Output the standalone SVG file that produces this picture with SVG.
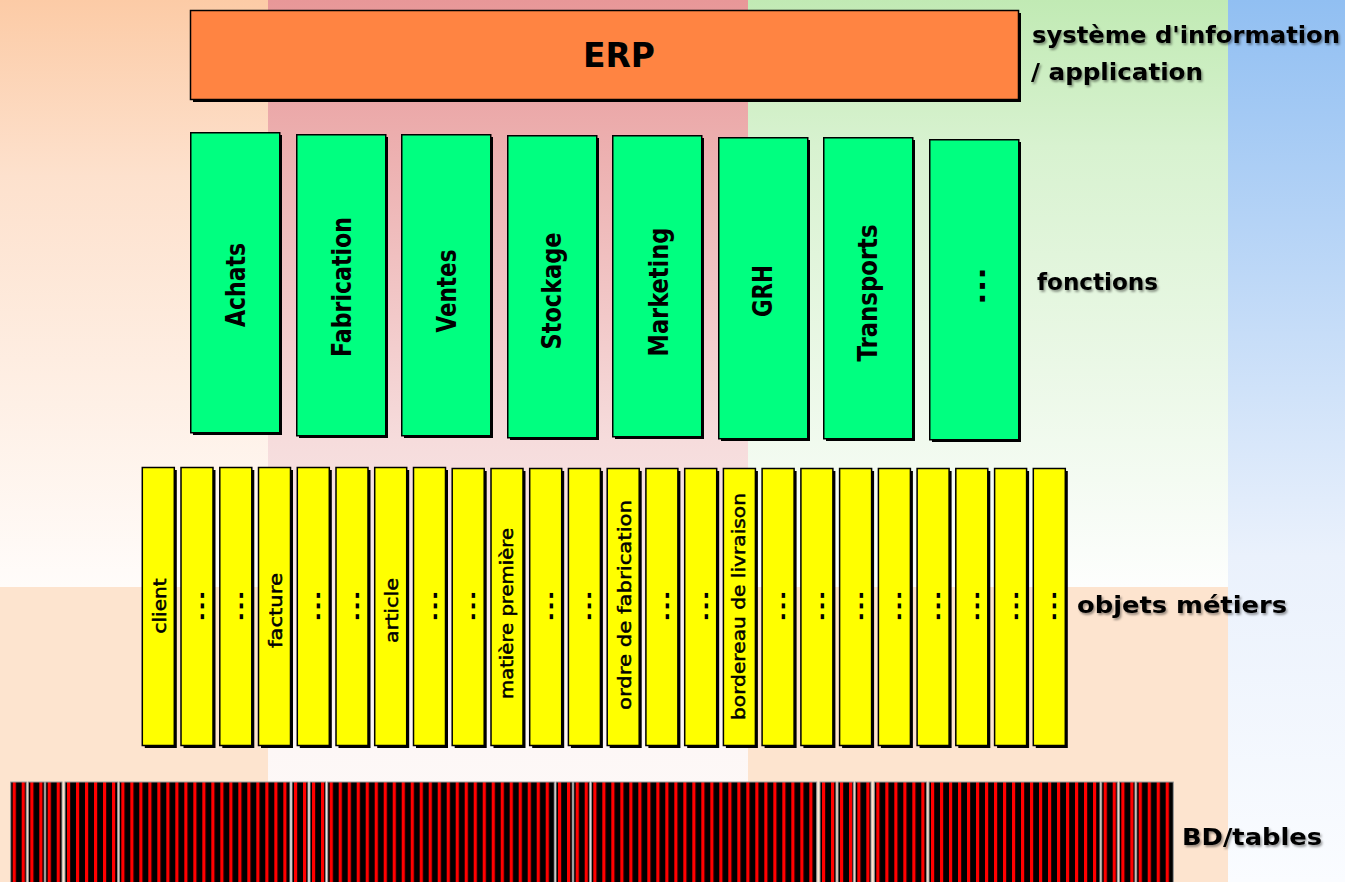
<svg xmlns="http://www.w3.org/2000/svg" width="1345" height="882" viewBox="0 0 1345 882">
<defs>
  <linearGradient id="gPeach" x1="0" y1="0" x2="0" y2="1">
    <stop offset="0" stop-color="#fccba6"/>
    <stop offset="0.3" stop-color="#fde1cd"/>
    <stop offset="1" stop-color="#fffcfa"/>
  </linearGradient>
  <linearGradient id="gPink" x1="0" y1="0" x2="0" y2="1">
    <stop offset="0" stop-color="#e89798"/>
    <stop offset="0.15" stop-color="#ecadad"/>
    <stop offset="0.5" stop-color="#f6dcdc"/>
    <stop offset="0.85" stop-color="#fdf7f6"/>
    <stop offset="1" stop-color="#fdfaf9"/>
  </linearGradient>
  <linearGradient id="gGreen" x1="0" y1="0" x2="0" y2="1">
    <stop offset="0" stop-color="#c1eab4"/>
    <stop offset="0.25" stop-color="#d8f2d0"/>
    <stop offset="1" stop-color="#fdfefd"/>
  </linearGradient>
  <linearGradient id="gBlue" x1="0" y1="0" x2="0" y2="1">
    <stop offset="0" stop-color="#91bff2"/>
    <stop offset="0.63" stop-color="#eaf1fc"/>
    <stop offset="1" stop-color="#fafcff"/>
  </linearGradient>
  <pattern id="stripes" width="9" height="20" patternUnits="userSpaceOnUse">
    <rect width="9" height="20" fill="#000"/>
    <rect x="2" width="3.2" height="20" fill="#ff0000"/>
  </pattern>
  <filter id="ts" x="-10%" y="-30%" width="120%" height="160%">
    <feDropShadow dx="1.5" dy="2" stdDeviation="1" flood-color="#000" flood-opacity="0.4"/>
  </filter>
</defs>
<style>
  .sh{fill:#000}
  .erp{fill:#ff8442;stroke:#000;stroke-width:1.5}
  .fn{fill:#00ff80;stroke:#000;stroke-width:1.5}
  .ob{fill:#ffff00;stroke:#000;stroke-width:1.5}
  .gl{font-family:"DejaVu Sans",sans-serif;font-weight:bold;font-size:26px;fill:#000}
  .yl{font-family:"DejaVu Sans",sans-serif;font-size:18px;fill:#000;stroke:#000;stroke-width:0.5}
  .yd{font-family:"DejaVu Sans",sans-serif;font-weight:bold;font-size:18px;fill:#000}
  .lb{font-family:"DejaVu Sans",sans-serif;font-weight:bold;font-size:23px;fill:#000;filter:url(#ts)}
  .tb{fill:url(#stripes);stroke:#9a9a9a;stroke-width:1}
</style>

<g id="background">
  <rect x="0" y="0" width="268" height="587" fill="url(#gPeach)"/>
  <rect x="0" y="587" width="268" height="295" fill="#fde4cf"/>
  <rect x="268" y="0" width="480" height="882" fill="url(#gPink)"/>
  <rect x="748" y="0" width="480" height="587" fill="url(#gGreen)"/>
  <rect x="748" y="587" width="480" height="295" fill="#fde4cf"/>
  <rect x="1228" y="0" width="117" height="882" fill="url(#gBlue)"/>
</g>

<g id="connectors"></g>

<g id="erp">
  <rect class="sh" x="193" y="13" width="828" height="89"/>
  <rect class="erp" x="190.5" y="10.5" width="828" height="89"/>
  <text x="619" y="55" font-family="DejaVu Sans, sans-serif" font-weight="bold" font-size="34" text-anchor="middle" dominant-baseline="central" textLength="72" lengthAdjust="spacingAndGlyphs">ERP</text>
</g>

<g id="fonctions">
  <g id="f-achats">
    <rect class="sh" x="193" y="135" width="89" height="300"/>
    <rect class="fn" x="190.75" y="132.75" width="89" height="300"/>
    <text class="gl" transform="translate(236,285) rotate(-90)" text-anchor="middle" dominant-baseline="central" textLength="84" lengthAdjust="spacingAndGlyphs">Achats</text>
  </g>
  <g id="f-fabrication">
    <rect class="sh" x="299" y="137" width="89" height="301"/>
    <rect class="fn" x="296.75" y="134.75" width="89" height="301"/>
    <text class="gl" transform="translate(342,287) rotate(-90)" text-anchor="middle" dominant-baseline="central" textLength="140" lengthAdjust="spacingAndGlyphs">Fabrication</text>
  </g>
  <g id="f-ventes">
    <rect class="sh" x="404" y="137" width="89" height="301"/>
    <rect class="fn" x="401.75" y="134.75" width="89" height="301"/>
    <text class="gl" transform="translate(447,291) rotate(-90)" text-anchor="middle" dominant-baseline="central" textLength="83" lengthAdjust="spacingAndGlyphs">Ventes</text>
  </g>
  <g id="f-stockage">
    <rect class="sh" x="510" y="138" width="89" height="302"/>
    <rect class="fn" x="507.75" y="135.75" width="89" height="302"/>
    <text class="gl" transform="translate(552,291) rotate(-90)" text-anchor="middle" dominant-baseline="central" textLength="117" lengthAdjust="spacingAndGlyphs">Stockage</text>
  </g>
  <g id="f-marketing">
    <rect class="sh" x="615" y="138" width="89" height="301"/>
    <rect class="fn" x="612.75" y="135.75" width="89" height="301"/>
    <text class="gl" transform="translate(659,292) rotate(-90)" text-anchor="middle" dominant-baseline="central" textLength="129" lengthAdjust="spacingAndGlyphs">Marketing</text>
  </g>
  <g id="f-grh">
    <rect class="sh" x="721" y="140" width="89" height="301"/>
    <rect class="fn" x="718.75" y="137.75" width="89" height="301"/>
    <text class="gl" transform="translate(763,291) rotate(-90)" text-anchor="middle" dominant-baseline="central" textLength="52" lengthAdjust="spacingAndGlyphs">GRH</text>
  </g>
  <g id="f-transports">
    <rect class="sh" x="826" y="140" width="89" height="301"/>
    <rect class="fn" x="823.75" y="137.75" width="89" height="301"/>
    <text class="gl" transform="translate(868,293) rotate(-90)" text-anchor="middle" dominant-baseline="central" textLength="137" lengthAdjust="spacingAndGlyphs">Transports</text>
  </g>
  <g id="f-autres">
    <rect class="sh" x="932" y="142" width="89" height="300"/>
    <rect class="fn" x="929.75" y="139.75" width="89" height="300"/>
    <text class="gl" transform="translate(976,286) rotate(-90)" text-anchor="middle" dominant-baseline="central" textLength="38" lengthAdjust="spacingAndGlyphs">...</text>
  </g>
</g>

<g id="objets">
  <g id="o1"><rect class="sh" x="144.8" y="470" width="32" height="278"/><rect class="ob" x="142.3" y="467.5" width="32" height="278"/><text class="yl" transform="translate(159,606) rotate(-90)" text-anchor="middle" dominant-baseline="central" textLength="55" lengthAdjust="spacingAndGlyphs">client</text></g>
  <g id="o2"><rect class="sh" x="183.5" y="470" width="32" height="278"/><rect class="ob" x="181" y="467.5" width="32" height="278"/><text class="yd" transform="translate(197.5,606) rotate(-90)" text-anchor="middle" dominant-baseline="central" textLength="32" lengthAdjust="spacingAndGlyphs">...</text></g>
  <g id="o3"><rect class="sh" x="222.3" y="470" width="32" height="278"/><rect class="ob" x="219.8" y="467.5" width="32" height="278"/><text class="yd" transform="translate(236.3,606) rotate(-90)" text-anchor="middle" dominant-baseline="central" textLength="32" lengthAdjust="spacingAndGlyphs">...</text></g>
  <g id="o4"><rect class="sh" x="261" y="470" width="32" height="278"/><rect class="ob" x="258.5" y="467.5" width="32" height="278"/><text class="yl" transform="translate(275,610.5) rotate(-90)" text-anchor="middle" dominant-baseline="central" textLength="75" lengthAdjust="spacingAndGlyphs">facture</text></g>
  <g id="o5"><rect class="sh" x="299.8" y="470" width="32" height="278"/><rect class="ob" x="297.3" y="467.5" width="32" height="278"/><text class="yd" transform="translate(313.8,606) rotate(-90)" text-anchor="middle" dominant-baseline="central" textLength="32" lengthAdjust="spacingAndGlyphs">...</text></g>
  <g id="o6"><rect class="sh" x="338.5" y="470" width="32" height="278"/><rect class="ob" x="336" y="467.5" width="32" height="278"/><text class="yd" transform="translate(352.5,606) rotate(-90)" text-anchor="middle" dominant-baseline="central" textLength="32" lengthAdjust="spacingAndGlyphs">...</text></g>
  <g id="o7"><rect class="sh" x="377.2" y="470" width="32" height="278"/><rect class="ob" x="374.7" y="467.5" width="32" height="278"/><text class="yl" transform="translate(391.2,610.5) rotate(-90)" text-anchor="middle" dominant-baseline="central" textLength="65" lengthAdjust="spacingAndGlyphs">article</text></g>
  <g id="o8"><rect class="sh" x="416" y="470" width="32" height="278"/><rect class="ob" x="413.5" y="467.5" width="32" height="278"/><text class="yd" transform="translate(430,606) rotate(-90)" text-anchor="middle" dominant-baseline="central" textLength="32" lengthAdjust="spacingAndGlyphs">...</text></g>
  <g id="o9"><rect class="sh" x="454.7" y="471" width="32" height="277"/><rect class="ob" x="452.2" y="468.5" width="32" height="277"/><text class="yd" transform="translate(468.7,606) rotate(-90)" text-anchor="middle" dominant-baseline="central" textLength="32" lengthAdjust="spacingAndGlyphs">...</text></g>
  <g id="o10"><rect class="sh" x="493.5" y="471" width="32" height="277"/><rect class="ob" x="491" y="468.5" width="32" height="277"/><text class="yl" transform="translate(506,613.5) rotate(-90)" text-anchor="middle" dominant-baseline="central" textLength="171" lengthAdjust="spacingAndGlyphs">matière première</text></g>
  <g id="o11"><rect class="sh" x="532.2" y="471" width="32" height="277"/><rect class="ob" x="529.7" y="468.5" width="32" height="277"/><text class="yd" transform="translate(546.2,606) rotate(-90)" text-anchor="middle" dominant-baseline="central" textLength="32" lengthAdjust="spacingAndGlyphs">...</text></g>
  <g id="o12"><rect class="sh" x="570.9" y="471" width="32" height="277"/><rect class="ob" x="568.4" y="468.5" width="32" height="277"/><text class="yd" transform="translate(584.9,606) rotate(-90)" text-anchor="middle" dominant-baseline="central" textLength="32" lengthAdjust="spacingAndGlyphs">...</text></g>
  <g id="o13"><rect class="sh" x="609.7" y="471" width="32" height="277"/><rect class="ob" x="607.2" y="468.5" width="32" height="277"/><text class="yl" transform="translate(624.5,605) rotate(-90)" text-anchor="middle" dominant-baseline="central" textLength="210" lengthAdjust="spacingAndGlyphs">ordre de fabrication</text></g>
  <g id="o14"><rect class="sh" x="648.4" y="471" width="32" height="277"/><rect class="ob" x="645.9" y="468.5" width="32" height="277"/><text class="yd" transform="translate(662.4,606) rotate(-90)" text-anchor="middle" dominant-baseline="central" textLength="32" lengthAdjust="spacingAndGlyphs">...</text></g>
  <g id="o15"><rect class="sh" x="687.2" y="471" width="32" height="277"/><rect class="ob" x="684.7" y="468.5" width="32" height="277"/><text class="yd" transform="translate(701.2,606) rotate(-90)" text-anchor="middle" dominant-baseline="central" textLength="32" lengthAdjust="spacingAndGlyphs">...</text></g>
  <g id="o16"><rect class="sh" x="725.9" y="471" width="32" height="277"/><rect class="ob" x="723.4" y="468.5" width="32" height="277"/><text class="yl" transform="translate(738.5,606.5) rotate(-90)" text-anchor="middle" dominant-baseline="central" textLength="227" lengthAdjust="spacingAndGlyphs">bordereau de livraison</text></g>
  <g id="o17"><rect class="sh" x="764.6" y="471" width="32" height="277"/><rect class="ob" x="762.1" y="468.5" width="32" height="277"/><text class="yd" transform="translate(778.6,606) rotate(-90)" text-anchor="middle" dominant-baseline="central" textLength="32" lengthAdjust="spacingAndGlyphs">...</text></g>
  <g id="o18"><rect class="sh" x="803.4" y="471" width="32" height="277"/><rect class="ob" x="800.9" y="468.5" width="32" height="277"/><text class="yd" transform="translate(817.4,606) rotate(-90)" text-anchor="middle" dominant-baseline="central" textLength="32" lengthAdjust="spacingAndGlyphs">...</text></g>
  <g id="o19"><rect class="sh" x="842.1" y="471" width="32" height="277"/><rect class="ob" x="839.6" y="468.5" width="32" height="277"/><text class="yd" transform="translate(856.1,606) rotate(-90)" text-anchor="middle" dominant-baseline="central" textLength="32" lengthAdjust="spacingAndGlyphs">...</text></g>
  <g id="o20"><rect class="sh" x="880.9" y="471" width="32" height="277"/><rect class="ob" x="878.4" y="468.5" width="32" height="277"/><text class="yd" transform="translate(894.9,606) rotate(-90)" text-anchor="middle" dominant-baseline="central" textLength="32" lengthAdjust="spacingAndGlyphs">...</text></g>
  <g id="o21"><rect class="sh" x="919.6" y="471" width="32" height="277"/><rect class="ob" x="917.1" y="468.5" width="32" height="277"/><text class="yd" transform="translate(933.6,606) rotate(-90)" text-anchor="middle" dominant-baseline="central" textLength="32" lengthAdjust="spacingAndGlyphs">...</text></g>
  <g id="o22"><rect class="sh" x="958.3" y="471" width="32" height="277"/><rect class="ob" x="955.8" y="468.5" width="32" height="277"/><text class="yd" transform="translate(972.3,606) rotate(-90)" text-anchor="middle" dominant-baseline="central" textLength="32" lengthAdjust="spacingAndGlyphs">...</text></g>
  <g id="o23"><rect class="sh" x="997.1" y="471" width="32" height="277"/><rect class="ob" x="994.6" y="468.5" width="32" height="277"/><text class="yd" transform="translate(1011.1,606) rotate(-90)" text-anchor="middle" dominant-baseline="central" textLength="32" lengthAdjust="spacingAndGlyphs">...</text></g>
  <g id="o24"><rect class="sh" x="1035.8" y="471" width="32" height="277"/><rect class="ob" x="1033.3" y="468.5" width="32" height="277"/><text class="yd" transform="translate(1049.8,606) rotate(-90)" text-anchor="middle" dominant-baseline="central" textLength="32" lengthAdjust="spacingAndGlyphs">...</text></g>
</g>

<g id="tables">
  <rect class="tb" transform="translate(10.7,782)" width="15.6" height="101"/>
  <rect class="tb" transform="translate(28.3,782)" width="16" height="101"/>
  <rect class="tb" transform="translate(45.7,782)" width="16.3" height="101"/>
  <rect class="tb" transform="translate(65,782)" width="52.7" height="101"/>
  <rect class="tb" transform="translate(119.3,782)" width="170.7" height="101"/>
  <rect class="tb" transform="translate(292,782)" width="16" height="101"/>
  <rect class="tb" transform="translate(310,782)" width="15.7" height="101"/>
  <rect class="tb" transform="translate(327.7,782)" width="226.6" height="101"/>
  <rect class="tb" transform="translate(556,782)" width="16.3" height="101"/>
  <rect class="tb" transform="translate(573.7,782)" width="16" height="101"/>
  <rect class="tb" transform="translate(591.3,782)" width="225.4" height="101"/>
  <rect class="tb" transform="translate(820,782)" width="16" height="101"/>
  <rect class="tb" transform="translate(838,782)" width="15.3" height="101"/>
  <rect class="tb" transform="translate(855.3,782)" width="15.7" height="101"/>
  <rect class="tb" transform="translate(874.3,782)" width="52.4" height="101"/>
  <rect class="tb" transform="translate(929,782)" width="171" height="101"/>
  <rect class="tb" transform="translate(1101.7,782)" width="15.6" height="101"/>
  <rect class="tb" transform="translate(1119.3,782)" width="15.7" height="101"/>
  <rect class="tb" transform="translate(1136.7,782)" width="36.6" height="101"/>
</g>

<g id="labels">
  <text class="lb" x="1032" y="43" textLength="308" lengthAdjust="spacingAndGlyphs">système d'information</text>
  <text class="lb" x="1031" y="80" textLength="172" lengthAdjust="spacingAndGlyphs">/ application</text>
  <text class="lb" x="1037" y="290" textLength="121" lengthAdjust="spacingAndGlyphs">fonctions</text>
  <text class="lb" x="1077" y="613" textLength="210" lengthAdjust="spacingAndGlyphs">objets métiers</text>
  <text class="lb" x="1182" y="845" font-size="24" textLength="140" lengthAdjust="spacingAndGlyphs">BD/tables</text>
</g>
</svg>
